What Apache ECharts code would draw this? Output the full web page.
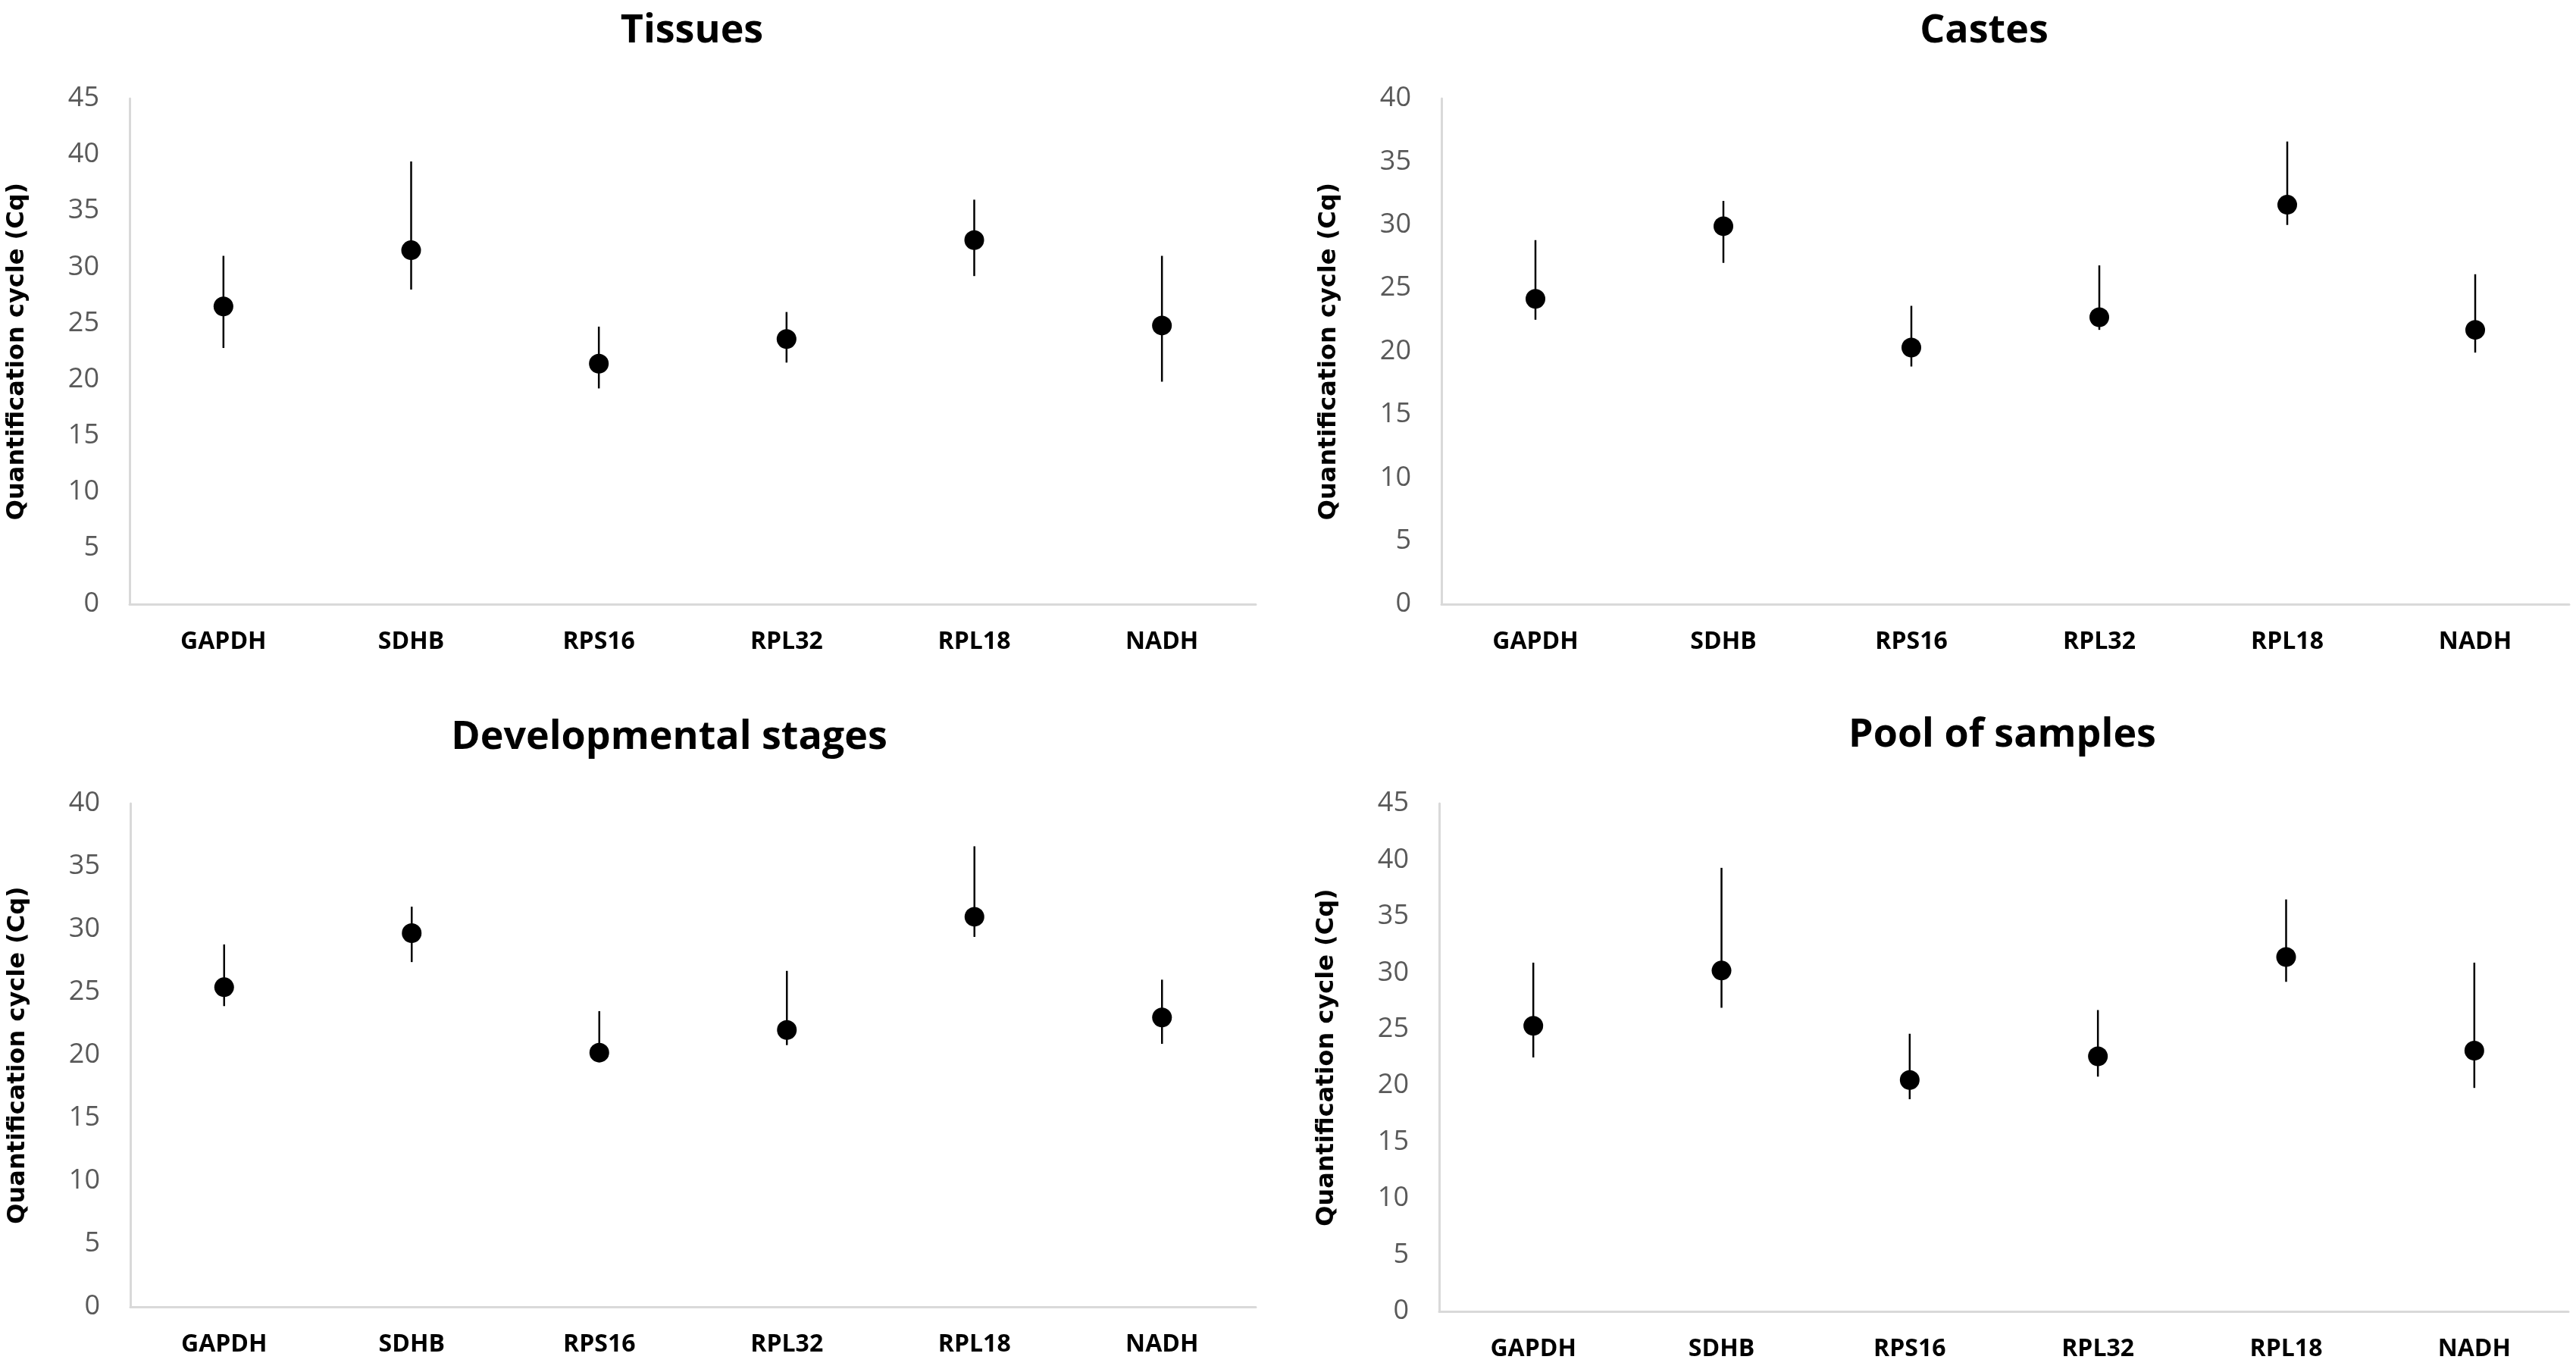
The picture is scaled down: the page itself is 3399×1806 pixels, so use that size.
<!DOCTYPE html>
<html>
<head>
<meta charset="utf-8">
<script src="https://cdn.jsdelivr.net/npm/echarts@6/dist/echarts.min.js"></script>
<style>
html,body{margin:0;padding:0;background:#fff;}
#chart{width:3399px;height:1806px;}
</style>
</head>
<body>
<div id="chart"></div>
<script>
const categories = ['GAPDH', 'SDHB', 'RPS16', 'RPL32', 'RPL18', 'NADH'];
const panelTitles = ['Tissues', 'Castes', 'Developmental stages', 'Pool of samples'];
const yMaxes = [45, 40, 40, 45];
const yTickInterval = 5;

const tissuesMean = [26.5, 31.5, 21.4, 23.6, 32.4, 24.8];
const tissuesLow  = [22.8, 28.0, 19.2, 21.5, 29.2, 19.8];
const tissuesHigh = [31.0, 39.4, 24.7, 26.0, 36.0, 31.0];

const castesMean = [24.15, 29.9, 20.3, 22.7, 31.6, 21.7];
const castesLow  = [22.5, 27.0, 18.8, 21.7, 30.0, 19.9];
const castesHigh = [28.8, 31.9, 23.6, 26.8, 36.6, 26.1];

const devMean = [25.4, 29.7, 20.2, 22.0, 31.0, 23.0];
const devLow  = [23.9, 27.4, 19.5, 20.8, 29.4, 20.9];
const devHigh = [28.8, 31.8, 23.5, 26.7, 36.6, 26.0];

const poolMean = [25.3, 30.2, 20.5, 22.6, 31.4, 23.1];
const poolLow  = [22.5, 26.9, 18.8, 20.8, 29.2, 19.8];
const poolHigh = [30.9, 39.3, 24.6, 26.7, 36.5, 30.9];

const means = [tissuesMean, castesMean, devMean, poolMean];
const lows = [tissuesLow, castesLow, devLow, poolLow];
const highs = [tissuesHigh, castesHigh, devHigh, poolHigh];

const grids = [
  {left: 171, top: 130, width: 1486, height: 667},
  {left: 1902, top: 130, width: 1488, height: 667},
  {left: 172, top: 1060, width: 1485, height: 664},
  {left: 1899, top: 1060, width: 1490, height: 670}
];
const titlePos = [
  {x: 908, y: 10},
  {x: 2613, y: 10},
  {x: 878, y: 942},
  {x: 2637, y: 939}
];

const chart = echarts.init(document.getElementById('chart'));
const option = {
  backgroundColor: '#fff',
  animation: false,
  title: panelTitles.map((t, i) => ({
    text: t,
    left: titlePos[i].x,
    top: titlePos[i].y,
    textAlign: 'center',
    textStyle: {fontFamily: 'Open Sans', fontWeight: 'bold', fontSize: 52, color: '#000'}
  })),
  grid: grids,
  xAxis: grids.map((g, i) => ({
    type: 'category',
    gridIndex: i,
    data: categories,
    axisLine: {lineStyle: {color: '#d9d9d9', width: 3}},
    axisTick: {show: false},
    axisLabel: {fontFamily: 'Open Sans', fontWeight: 'bold', fontSize: 32, color: '#000', margin: 34}
  })),
  yAxis: grids.map((g, i) => ({
    type: 'value',
    gridIndex: i,
    min: 0,
    max: yMaxes[i],
    interval: yTickInterval,
    name: 'Quantification cycle (Cq)',
    nameLocation: 'middle',
    nameRotate: 90,
    nameGap: 132,
    nameTextStyle: {fontFamily: 'DejaVu Sans', fontWeight: 'bold', fontSize: 32, color: '#000'},
    axisLine: {show: true, lineStyle: {color: '#d9d9d9', width: 3}},
    axisTick: {show: false},
    splitLine: {show: false},
    axisLabel: {fontFamily: 'Liberation Sans Narrow, Open Sans', fontSize: 36, color: '#595959', margin: 40}
  })),
  series: []
};

for (let i = 0; i < 4; i++) {
  const errData = categories.map((c, k) => [k, lows[i][k], highs[i][k]]);
  option.series.push({
    type: 'custom',
    xAxisIndex: i,
    yAxisIndex: i,
    data: errData,
    renderItem: function (params, api) {
      const x = api.value(0);
      const p1 = api.coord([x, api.value(1)]);
      const p2 = api.coord([x, api.value(2)]);
      return {
        type: 'line',
        shape: {x1: p1[0], y1: p1[1], x2: p2[0], y2: p2[1]},
        style: {stroke: '#000', lineWidth: 2.5}
      };
    },
    z: 2
  });
  option.series.push({
    type: 'scatter',
    xAxisIndex: i,
    yAxisIndex: i,
    data: means[i],
    symbol: 'circle',
    symbolSize: 26,
    itemStyle: {color: '#000', opacity: 1},
    z: 3
  });
}

chart.setOption(option);
</script>
</body>
</html>
